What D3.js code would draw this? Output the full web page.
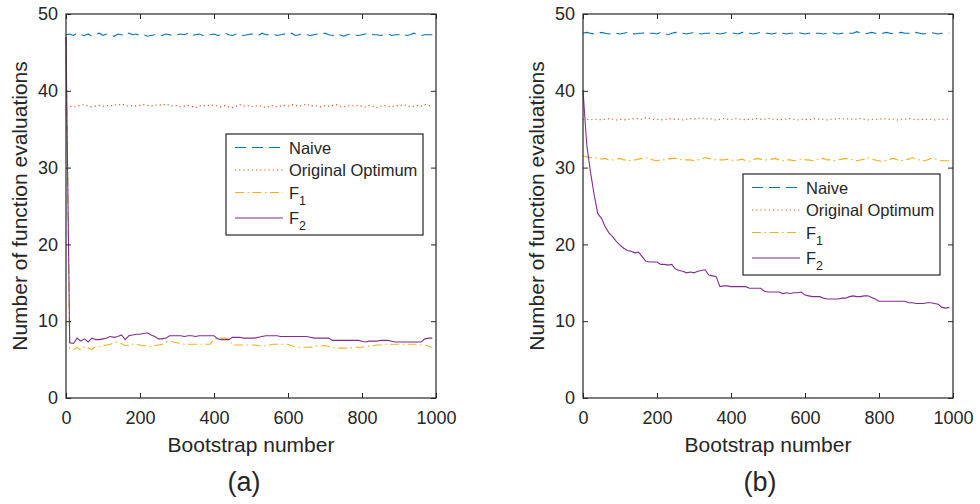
<!DOCTYPE html>
<html><head><meta charset="utf-8">
<script src="https://cdn.jsdelivr.net/npm/d3@7/dist/d3.min.js"></script>
<style>
body{margin:0;background:#fff}
svg text{font-family:"Liberation Sans",Arial,Helvetica,sans-serif;fill:#262626}
</style>
</head><body>
<svg id="c" width="980" height="504"></svg>
<script>
// Bootstrap numbers (x positions)
const bootstrap = [0,10,20,30,40,50,60,70,80,90,100,110,120,130,140,150,160,170,180,190,
200,210,220,230,240,250,260,270,280,290,300,310,320,330,340,350,360,370,380,390,
400,410,420,430,440,450,460,470,480,490,500,510,520,530,540,550,560,570,580,590,
600,610,620,630,640,650,660,670,680,690,700,710,720,730,740,750,760,770,780,790,
800,810,820,830,840,850,860,870,880,890,900,910,920,930,940,950,960,970,980,990];

// Panel (a)
const naiveA = [47.3,47.4,47.2,47.5,47.3,47.2,47.4,47.1,47.3,47.5,
47.2,47.4,47.3,47.1,47.4,47.3,47.2,47.5,47.3,47.4,
47.2,47.3,47.1,47.2,47.3,47.3,47.2,47.4,47.3,47.2,
47.3,47.4,47.3,47.5,47.2,47.3,47.4,47.2,47.3,47.3,
47.4,47.2,47.3,47.5,47.3,47.2,47.4,47.3,47.2,47.3,
47.4,47.3,47.2,47.5,47.3,47.3,47.4,47.2,47.3,47.4,
47.3,47.5,47.2,47.3,47.4,47.3,47.2,47.3,47.4,47.3,
47.5,47.3,47.2,47.4,47.3,47.1,47.3,47.4,47.3,47.2,
47.3,47.4,47.5,47.3,47.3,47.2,47.3,47.4,47.2,47.3,
47.3,47.4,47.2,47.3,47.5,47.3,47.2,47.3,47.3,47.3];
const origA = [38.1,38.0,37.9,38.0,38.1,38.2,38.0,37.9,38.0,38.1,
38.0,38.1,38.0,38.2,38.1,38.3,38.1,38.0,38.1,38.0,
38.1,38.2,38.1,38.0,38.1,38.2,38.1,38.3,38.1,38.0,
38.1,37.9,38.0,38.1,38.0,37.8,38.0,38.1,38.0,38.2,
38.1,38.0,37.9,38.1,37.9,37.8,38.0,38.2,38.0,38.1,
37.9,38.0,38.1,38.0,37.8,38.0,38.1,37.9,38.0,38.1,
38.0,38.2,38.1,38.0,38.1,38.3,38.0,38.1,38.0,37.9,
38.1,38.0,38.1,38.2,38.0,37.9,38.0,38.1,38.0,38.1,
38.0,37.9,38.1,38.0,37.8,38.0,38.1,38.0,37.9,38.1,
38.0,38.2,38.1,37.9,38.0,38.1,38.0,38.2,38.1,38.0];
const f1A = [47.0,6.5,6.3,6.6,6.25,6.7,6.5,6.3,6.7,6.7,
6.8,6.9,7.0,7.2,7.25,7.1,6.8,6.9,7.0,7.0,
6.9,6.8,6.8,6.7,6.8,6.9,7.0,7.3,7.4,7.3,
7.2,7.1,7.0,7.0,7.0,7.0,7.0,7.0,7.0,7.0,
7.7,7.7,7.8,7.8,7.7,6.9,6.9,6.9,6.9,6.9,
6.9,6.9,6.8,6.8,6.8,6.9,7.0,7.0,7.0,7.0,
7.0,6.8,6.7,6.6,6.6,6.6,6.6,6.7,6.8,6.8,
6.8,6.7,6.6,6.5,6.5,6.5,6.5,6.5,6.6,6.6,
6.6,6.7,6.8,6.8,6.9,6.9,7.0,7.0,7.0,7.0,
7.0,7.0,7.0,7.0,7.0,7.0,6.9,6.9,6.7,6.6];
const f2A = [47.0,7.2,7.1,7.8,7.4,7.7,7.3,7.8,7.6,7.6,
7.7,7.8,8.0,7.9,8.0,8.2,7.6,8.1,8.2,8.3,
8.3,8.4,8.5,8.2,8.0,7.7,7.7,7.8,8.1,8.1,
8.1,8.1,8.0,8.1,8.1,8.0,8.1,8.1,8.1,8.1,
8.1,7.7,7.6,7.6,7.6,7.9,7.9,7.9,7.8,7.8,
7.8,7.8,7.9,8.0,8.1,8.1,8.1,8.1,8.0,8.0,
8.0,8.0,8.0,8.0,8.0,8.0,7.9,7.8,7.8,7.8,
7.8,7.8,7.5,7.5,7.5,7.5,7.5,7.5,7.5,7.5,
7.4,7.3,7.4,7.4,7.4,7.5,7.5,7.5,7.4,7.3,
7.3,7.3,7.3,7.3,7.3,7.3,7.3,7.7,7.8,7.8];

// Panel (b)
const naiveB = [47.5,47.6,47.5,47.4,47.5,47.6,47.5,47.4,47.5,47.5,
47.4,47.5,47.6,47.5,47.4,47.5,47.5,47.6,47.5,47.5,
47.4,47.6,47.5,47.3,47.5,47.6,47.5,47.5,47.4,47.5,
47.6,47.5,47.4,47.5,47.5,47.6,47.5,47.4,47.5,47.6,
47.5,47.5,47.4,47.6,47.5,47.5,47.4,47.5,47.6,47.5,
47.5,47.4,47.5,47.6,47.5,47.4,47.5,47.5,47.6,47.5,
47.4,47.5,47.6,47.5,47.5,47.4,47.5,47.6,47.5,47.4,
47.5,47.6,47.5,47.5,47.7,47.5,47.4,47.5,47.6,47.5,
47.4,47.5,47.6,47.5,47.4,47.5,47.6,47.5,47.5,47.4,
47.6,47.5,47.4,47.5,47.6,47.5,47.4,47.5,47.5,47.5];
const origB = [36.3,36.3,36.2,36.3,36.3,36.2,36.3,36.4,36.3,36.2,
36.3,36.2,36.3,36.3,36.4,36.4,36.3,36.5,36.4,36.3,
36.3,36.2,36.3,36.3,36.4,36.3,36.3,36.2,36.3,36.4,
36.3,36.4,36.5,36.3,36.4,36.3,36.2,36.3,36.4,36.3,
36.3,36.4,36.3,36.3,36.2,36.3,36.3,36.4,36.3,36.3,
36.4,36.3,36.3,36.2,36.3,36.3,36.4,36.3,36.2,36.3,
36.3,36.2,36.3,36.4,36.3,36.3,36.2,36.3,36.3,36.4,
36.3,36.4,36.3,36.3,36.3,36.4,36.3,36.2,36.3,36.3,
36.3,36.4,36.3,36.3,36.3,36.2,36.3,36.3,36.4,36.3,
36.3,36.2,36.3,36.3,36.3,36.2,36.3,36.3,36.3,36.3];
const f1B = [31.5,31.4,31.3,31.2,31.3,31.1,31.2,31.0,31.0,31.1,
31.2,31.0,31.0,30.9,31.0,31.1,31.2,31.3,31.1,31.0,
30.9,31.0,31.0,31.1,31.2,31.2,31.1,31.0,31.0,31.0,
30.9,31.0,31.1,31.3,31.2,31.1,31.0,31.0,31.0,31.1,
31.0,30.9,31.0,31.1,30.9,30.8,31.0,31.2,31.1,31.0,
31.0,31.1,31.2,31.0,30.9,31.0,31.0,30.9,31.0,31.1,
31.0,31.0,30.9,31.0,31.1,31.2,31.0,31.0,30.9,31.0,
31.1,31.2,31.1,31.0,30.9,31.0,31.1,31.3,31.1,31.0,
30.9,30.8,31.0,31.1,31.2,31.0,30.9,31.0,31.1,31.3,
31.1,31.0,30.9,31.0,31.2,31.1,31.0,30.9,30.9,30.9];
const f2B = [40.1,33.0,29.5,26.5,24.0,23.4,22.3,21.5,21.0,20.4,
19.9,19.5,19.2,19.1,18.9,19.0,18.4,17.8,17.7,17.7,
17.7,17.4,17.4,17.3,17.4,16.8,16.6,16.5,16.3,16.4,
16.3,16.5,16.6,16.7,16.0,15.9,15.8,14.5,14.6,14.6,
14.5,14.5,14.5,14.5,14.5,14.3,14.3,14.3,14.3,13.9,
13.8,13.8,13.8,13.8,13.6,13.7,13.6,13.7,13.7,13.8,
13.4,13.3,13.2,13.2,13.2,13.0,12.9,12.9,12.9,12.9,
13.0,13.0,13.2,13.3,13.2,13.2,13.3,13.3,13.1,12.9,
12.6,12.6,12.6,12.6,12.6,12.6,12.6,12.6,12.4,12.4,
12.3,12.3,12.3,12.4,12.4,12.3,12.2,11.8,11.7,11.8];

const xTicks = [0,200,400,600,800,1000];
const yTicks = [0,10,20,30,40,50];
const seriesLabels = [["Naive",""],["Original Optimum",""],["F","1"],["F","2"]];
const xLabel = "Bootstrap number";
const yLabel = "Number of function evaluations";

const colors = ["#0072BD","#D95319","#EDB120","#7E2F8E"];
const dashes = ["11,6","1.2,3","9,3.5,1.5,3.5",null];
const axisColor = "#262626";

const svg = d3.select("#c");

function panel(cfg){
  const x = d3.scaleLinear().domain([0,1000]).range([cfg.left, cfg.right]);
  const y = d3.scaleLinear().domain([0,50]).range([cfg.bottom, cfg.top]);
  const g = svg.append("g");
  const line = d3.line().x((d,i)=>x(bootstrap[i])).y(d=>y(d));
  cfg.series.forEach((s,k)=>{
    g.append("path").datum(s)
      .attr("d", line)
      .attr("fill","none")
      .attr("stroke", colors[k])
      .attr("stroke-width", 1.1)
      .attr("stroke-dasharray", dashes[k]);
  });
  const fmt = d3.format("d");
  const bottom = g.append("g").attr("transform",`translate(0,${cfg.bottom})`)
    .call(d3.axisBottom(x).tickValues(xTicks).tickFormat(fmt).tickSize(-5).tickSizeOuter(0).tickPadding(13));
  const top = g.append("g").attr("transform",`translate(0,${cfg.top})`)
    .call(d3.axisTop(x).tickValues(xTicks).tickSize(-5).tickSizeOuter(0).tickFormat(""));
  const left = g.append("g").attr("transform",`translate(${cfg.left},0)`)
    .call(d3.axisLeft(y).tickValues(yTicks).tickFormat(fmt).tickSize(-5).tickSizeOuter(0).tickPadding(8));
  const right = g.append("g").attr("transform",`translate(${cfg.right},0)`)
    .call(d3.axisRight(y).tickValues(yTicks).tickSize(-5).tickSizeOuter(0).tickFormat(""));
  [bottom,top,left,right].forEach(a=>{
    a.select(".domain").remove();
    a.selectAll("line").attr("stroke",axisColor).attr("stroke-width",1);
    a.selectAll("text").attr("font-size",18).attr("fill",axisColor)
      .attr("font-family","Liberation Sans, Arial, sans-serif");
  });
  g.append("rect").attr("x",cfg.left).attr("y",cfg.top)
    .attr("width",cfg.right-cfg.left).attr("height",cfg.bottom-cfg.top)
    .attr("fill","none").attr("stroke",axisColor).attr("stroke-width",1.2);
  g.append("text").attr("x",(cfg.left+cfg.right)/2).attr("y",452)
    .attr("text-anchor","middle").attr("font-size",21).text(xLabel);
  g.append("text").attr("transform",`translate(${cfg.left-39},${(cfg.top+cfg.bottom)/2}) rotate(-90)`)
    .attr("text-anchor","middle").attr("font-size",21).text(yLabel);
  g.append("text").attr("x",cfg.capX).attr("y",491)
    .attr("text-anchor","middle").attr("font-size",27).text(cfg.caption);
  const L = g.append("g").attr("transform",`translate(${cfg.legX},${cfg.legY})`);
  L.append("rect").attr("width",197).attr("height",101)
    .attr("fill","#fff").attr("stroke",axisColor).attr("stroke-width",1.2);
  const rows = [13.5,36,58.5,84];
  seriesLabels.forEach((lab,k)=>{
    L.append("line").attr("x1",9).attr("x2",57).attr("y1",rows[k]).attr("y2",rows[k])
      .attr("stroke",colors[k]).attr("stroke-width",1.1).attr("stroke-dasharray",dashes[k]);
    const t = L.append("text").attr("x",63).attr("y",rows[k]+6).attr("font-size",16.5);
    t.append("tspan").text(lab[0]);
    if(lab[1]) t.append("tspan").attr("dy",6).attr("font-size",12.5).text(lab[1]);
  });
}

panel({left:66,right:436,top:14,bottom:398,series:[naiveA,origA,f1A,f2A],
  legX:226,legY:134,caption:"(a)",capX:244});
panel({left:583,right:953,top:14,bottom:398,series:[naiveB,origB,f1B,f2B],
  legX:743,legY:174,caption:"(b)",capX:760});
</script>
</body></html>
